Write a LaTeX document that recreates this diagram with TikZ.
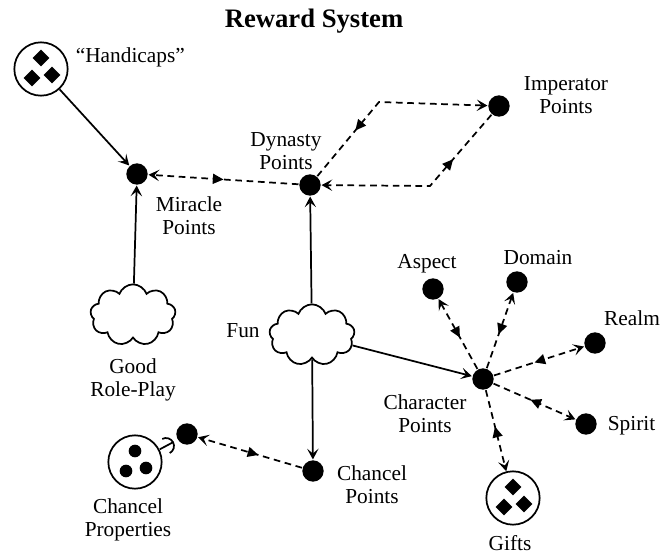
\documentclass[tikz,border=0pt]{standalone}
\usepackage{fontspec}
\setmainfont{Liberation Serif}
\usetikzlibrary{arrows.meta, shapes.geometric, shapes.symbols, decorations.markings}

\begin{document}
\begin{tikzpicture}[
    x=0.75pt,
    y=-0.75pt,
    line width=1.3pt,
    punto/.style={circle, fill=black, inner sep=0pt, minimum size=16pt},
    anillo/.style={circle, draw, inner sep=0pt, minimum size=40pt},
    rombo/.style={diamond, fill=black, inner sep=0pt, minimum size=13pt},
    bolita/.style={circle, fill=black, inner sep=0pt, minimum size=9.5pt},
    nube/.style={cloud, draw, cloud puffs=9, cloud puff arc=140, cloud ignores aspect,
        minimum width=64pt, minimum height=46pt, inner sep=0pt},
    texto/.style={font=\fontsize{16}{17.25}\selectfont, align=center, inner sep=0pt},
    flujo/.style={-{Stealth[length=8pt, width=8.5pt, inset=3.5pt]}},
    doble/.style={dash pattern=on 5pt off 3.5pt, -{Stealth[length=8pt, width=8.5pt, inset=3.5pt]},
        postaction={decorate}, decoration={markings,
        mark=at position #1 with {\arrowreversed{Triangle[length=8pt, width=7.5pt]}}}},
    doble/.default=0.45
]
\useasboundingbox (0,0) rectangle (665,554);

\node[font=\bfseries\fontsize{20}{24}\selectfont, anchor=base] (titulo) at (314,27) {Reward System};

% Puntos
\node[punto] (milagro) at (137,174) {};
\node[punto] (dinastia) at (310,185) {};
\node[punto] (imperator) at (499,106) {};
\node[punto] (personaje) at (483,379) {};
\node[punto] (capilla) at (313,471) {};
\node[punto] (propiedad) at (187,434) {};
\node[punto] (aspecto) at (433,289) {};
\node[punto] (dominio) at (517,282) {};
\node[punto] (reino) at (595,343) {};
\node[punto] (espiritu) at (586,424) {};

% Anillos y nubes
\node[anillo] (handicaps) at (41,69) {};
\node[anillo] (dones) at (513,498) {};
\node[anillo] (propiedades) at (135,462) {};
\node[nube] (rol) at (133,315) {};
\node[nube] (diversion) at (312,335) {};

\foreach \dx/\dy [count=\k] in {0/-11, -9/9, 11/6}
{
    \path (handicaps) ++(\dx,\dy) node[rombo] (hrombo\k) {};
    \path (dones) ++(\dx,\dy) node[rombo] (drombo\k) {};
    \path (propiedades) ++(\dx,\dy) node[bolita] (pbolita\k) {};
}

% Enchufe
\coordinate (enchufe) at (166,446);
\draw (enchufe) ++(62:8) arc[start angle=62, end angle=-118, radius=8];
\draw (enchufe) ++(152:7) -- ++(-28:15);

% Etiquetas
\node[texto, anchor=base west] (thandicaps) at (75,62) {“Handicaps”};
\node[texto] (tmilagro) at (189,216) {Miracle\\Points};
\node[texto] (tdinastia) at (286,151) {Dynasty\\Points};
\node[texto] (timperator) at (566,95) {Imperator\\Points};
\node[texto] (trol) at (133,380) {Good\\Role-Play};
\node[texto, anchor=base] (tdiversion) at (243,337) {Fun};
\node[texto] (tcapilla) at (372,485) {Chancel\\Points};
\node[texto] (tpropiedades) at (128,520) {Chancel\\Properties};
\node[texto] (tpersonaje) at (425,414) {Character\\Points};
\node[texto, anchor=base] (taspecto) at (427,268) {Aspect};
\node[texto, anchor=base] (tdominio) at (538,264) {Domain};
\node[texto, anchor=base] (treino) at (632,325) {Realm};
\node[texto, anchor=base west] (tespiritu) at (607,430) {Spirit};
\node[texto, anchor=base] (tdones) at (510,550) {Gifts};

% Conexiones
\draw[flujo] (handicaps) -- (milagro);
\draw[flujo] (rol) -- (milagro);
\draw[flujo] (diversion) -- (dinastia);
\draw[flujo] (diversion) -- (capilla);
\draw[flujo] (diversion) -- (personaje);

\coordinate (esq1) at (379,102);
\coordinate (esq2) at (430,186);
\draw[doble=0.5] (dinastia) -- (milagro);
\draw[doble=0.29] (dinastia) -- (esq1) -- (imperator);
\draw[doble=0.29] (imperator) -- (esq2) -- (dinastia);
\draw[doble=0.42] (capilla) -- (propiedad);
\foreach \dest in {aspecto, dominio, reino, espiritu, dones}
    \draw[doble] (personaje) -- (\dest);

\end{tikzpicture}
\end{document}
